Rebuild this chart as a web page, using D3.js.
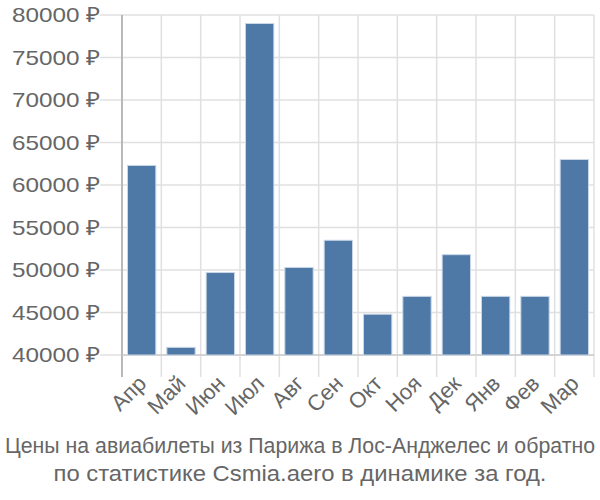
<!DOCTYPE html>
<html>
<head>
<meta charset="utf-8">
<script src="https://cdn.jsdelivr.net/npm/d3@7"></script>
<style>
  body { margin: 0; background: #fff; }
  svg { font-family: "Liberation Sans", Arial, sans-serif; }
</style>
</head>
<body>
<svg id="chart" width="600" height="500"></svg>
<script>
const months = ['Апр', 'Май', 'Июн', 'Июл', 'Авг', 'Сен', 'Окт', 'Ноя', 'Дек', 'Янв', 'Фев', 'Мар']
const prices = [62300, 40900, 49700, 79000, 50300, 53500, 44800, 46900, 51800, 46900, 46900, 63000]
const yTicks = [40000, 45000, 50000, 55000, 60000, 65000, 70000, 75000, 80000]
const caption = ['Цены на авиабилеты из Парижа в Лос-Анджелес и обратно', 'по статистике Csmia.aero в динамике за год.']
const captionWidths = [590, 493]

const plotLeft = 122, plotRight = 594, plotTop = 15, plotBottom = 355

const svg = d3.select('#chart')

const x = d3.scaleBand().domain(months).range([plotLeft, plotRight]).paddingInner(0.28).paddingOuter(0.14)
const xGrid = d3.scaleBand().domain(months).range([plotLeft, plotRight])
const y = d3.scaleLinear().domain([40000, 80000]).range([plotBottom, plotTop])

// grid
svg.append('g').selectAll('line')
  .data(yTicks).enter().append('line')
  .attr('x1', plotLeft - 22).attr('x2', plotRight)
  .attr('y1', d => y(d)).attr('y2', d => y(d))
  .attr('stroke', '#e0e0e0').attr('stroke-width', 1.5)

const vx = months.map(m => xGrid(m)).concat([plotRight])
svg.append('g').selectAll('line')
  .data(vx).enter().append('line')
  .attr('x1', d => d).attr('x2', d => d)
  .attr('y1', plotTop).attr('y2', plotBottom + 22)
  .attr('stroke', '#e0e0e0').attr('stroke-width', 1.5)

// axes lines
svg.append('line').attr('x1', plotLeft).attr('x2', plotLeft).attr('y1', plotTop).attr('y2', plotBottom + 22)
  .attr('stroke', '#aaa').attr('stroke-width', 1.5)
svg.append('line').attr('x1', plotLeft).attr('x2', plotRight).attr('y1', plotBottom).attr('y2', plotBottom)
  .attr('stroke', '#ccc').attr('stroke-width', 1.5)

// bars
svg.append('g').selectAll('rect')
  .data(prices).enter().append('rect')
  .attr('x', (d, i) => x(months[i]))
  .attr('width', x.bandwidth())
  .attr('y', d => y(d))
  .attr('height', d => plotBottom - y(d))
  .attr('fill', '#4e79a7')
  .attr('stroke', '#c9d6e6').attr('stroke-width', 1)

// y labels
svg.append('g').selectAll('text')
  .data(yTicks).enter().append('text')
  .attr('x', 100).attr('y', d => y(d))
  .attr('dy', '0.35em')
  .attr('text-anchor', 'end')
  .attr('fill', '#666').attr('font-size', 21)
  .attr('textLength', 88).attr('lengthAdjust', 'spacingAndGlyphs')
  .text(d => d + ' ₽')

// x labels
svg.append('g').selectAll('text')
  .data(months).enter().append('text')
  .attr('transform', m => 'translate(' + (xGrid(m) + xGrid.bandwidth() / 2 - 5) + ',' + (plotBottom + 19) + ') rotate(-45)')
  .attr('text-anchor', 'end')
  .attr('dy', '0.7em')
  .attr('fill', '#666').attr('font-size', 22)
  .text(m => m)

// caption
svg.append('g').selectAll('text')
  .data(caption).enter().append('text')
  .attr('x', 300).attr('y', (d, i) => 453 + i * 28)
  .attr('text-anchor', 'middle')
  .attr('fill', '#666').attr('font-size', 22)
  .attr('textLength', (d, i) => captionWidths[i]).attr('lengthAdjust', 'spacingAndGlyphs')
  .text(d => d)
</script>
</body>
</html>
